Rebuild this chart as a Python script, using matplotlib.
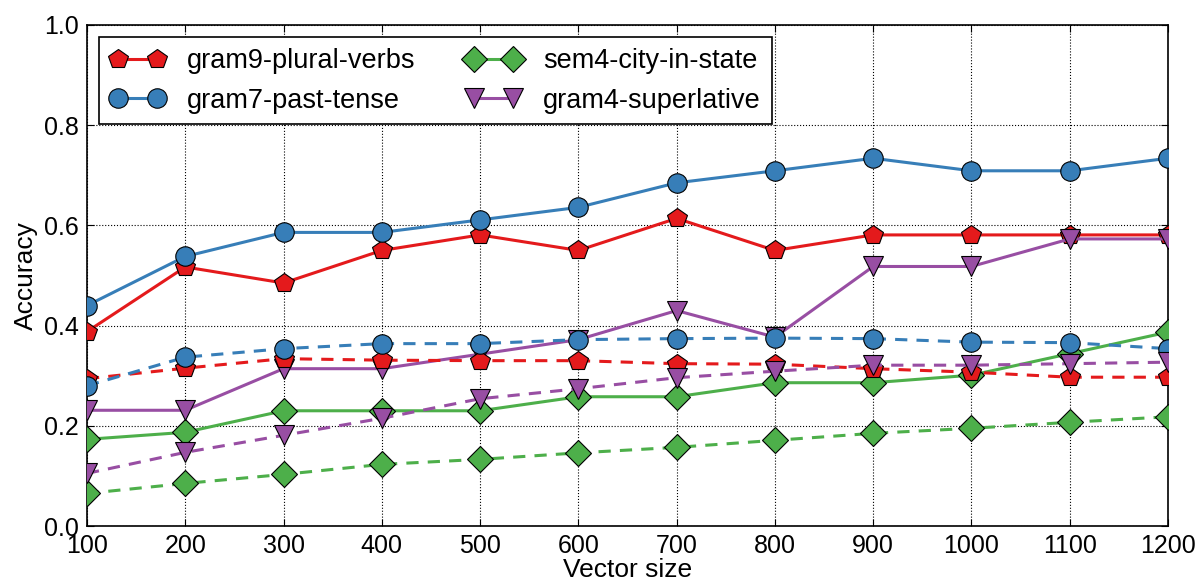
import matplotlib
matplotlib.use("Agg")
import matplotlib.pyplot as plt

plt.rcParams['font.family'] = ['Liberation Sans', 'DejaVu Sans']

sizes = [100, 200, 300, 400, 500, 600, 700, 800, 900, 1000, 1100, 1200]

plural_solid = [0.388, 0.517, 0.485, 0.550, 0.581, 0.550, 0.614, 0.550, 0.581, 0.581, 0.581, 0.581]
plural_dash = [0.294, 0.315, 0.334, 0.331, 0.330, 0.330, 0.324, 0.323, 0.314, 0.307, 0.297, 0.297]
past_solid = [0.440, 0.538, 0.586, 0.586, 0.611, 0.636, 0.685, 0.709, 0.734, 0.709, 0.709, 0.734]
past_dash = [0.280, 0.337, 0.354, 0.364, 0.364, 0.372, 0.374, 0.375, 0.374, 0.367, 0.366, 0.354]
city_solid = [0.173, 0.187, 0.230, 0.230, 0.230, 0.258, 0.258, 0.286, 0.286, 0.301, 0.344, 0.387]
city_dash = [0.065, 0.085, 0.103, 0.123, 0.133, 0.146, 0.157, 0.171, 0.185, 0.195, 0.207, 0.218]
sup_solid = [0.231, 0.231, 0.314, 0.314, 0.343, 0.372, 0.430, 0.377, 0.518, 0.518, 0.573, 0.573]
sup_dash = [0.105, 0.147, 0.181, 0.215, 0.254, 0.274, 0.296, 0.309, 0.321, 0.321, 0.324, 0.327]

labels = ['gram9-plural-verbs', 'gram7-past-tense', 'sem4-city-in-state', 'gram4-superlative']
colors = ['#e41a1c', '#377eb8', '#4daf4a', '#984ea3']
markers = ['p', 'o', 'D', 'v']
msizes = [15, 14, 13, 14]

fig = plt.figure(figsize=(12.03, 5.86), dpi=100)
ax = fig.add_axes([87/1203, 1 - 526/586, (1168-87)/1203, (526-25)/586])

solids = [plural_solid, past_solid, city_solid, sup_solid]
dashes = [plural_dash, past_dash, city_dash, sup_dash]

for s, lab, c, m, ms in zip(solids, labels, colors, markers, msizes):
    ax.plot(sizes, s, color=c, lw=2.2, marker=m, ms=ms, mec='black', mew=0.8,
            label=lab, zorder=3)
for s, c, m, ms in zip(dashes, colors, markers, msizes):
    ax.plot(sizes, s, color=c, lw=2.2, ls='--', dashes=(4, 3), marker=m, ms=ms,
            mec='black', mew=0.8, zorder=3)

ax.set_xlim(100, 1200)
ax.set_ylim(0, 1.0)
ax.set_xticks(sizes)
ax.set_yticks([0.0, 0.2, 0.4, 0.6, 0.8, 1.0])
ax.set_yticklabels(['0.0', '0.2', '0.4', '0.6', '0.8', '1.0'])
ax.grid(True, color='black', ls=':', lw=0.8)
ax.tick_params(direction='in', top=True, right=True, labelsize=18, length=5, pad=6)
ax.set_xlabel('Vector size', fontsize=19, labelpad=0)
ax.set_ylabel('Accuracy', fontsize=19, labelpad=4)
for sp in ax.spines.values():
    sp.set_linewidth(1.2)

leg = ax.legend(loc='upper left', ncol=2, numpoints=2, fontsize=19.5,
                fancybox=False, edgecolor='black', framealpha=1,
                handlelength=2.05, columnspacing=1.85, borderaxespad=0.45,
                handletextpad=0.8, labelspacing=0.5, borderpad=0.4)
leg.get_frame().set_linewidth(1.2)

fig.savefig('out.png', dpi=100)
